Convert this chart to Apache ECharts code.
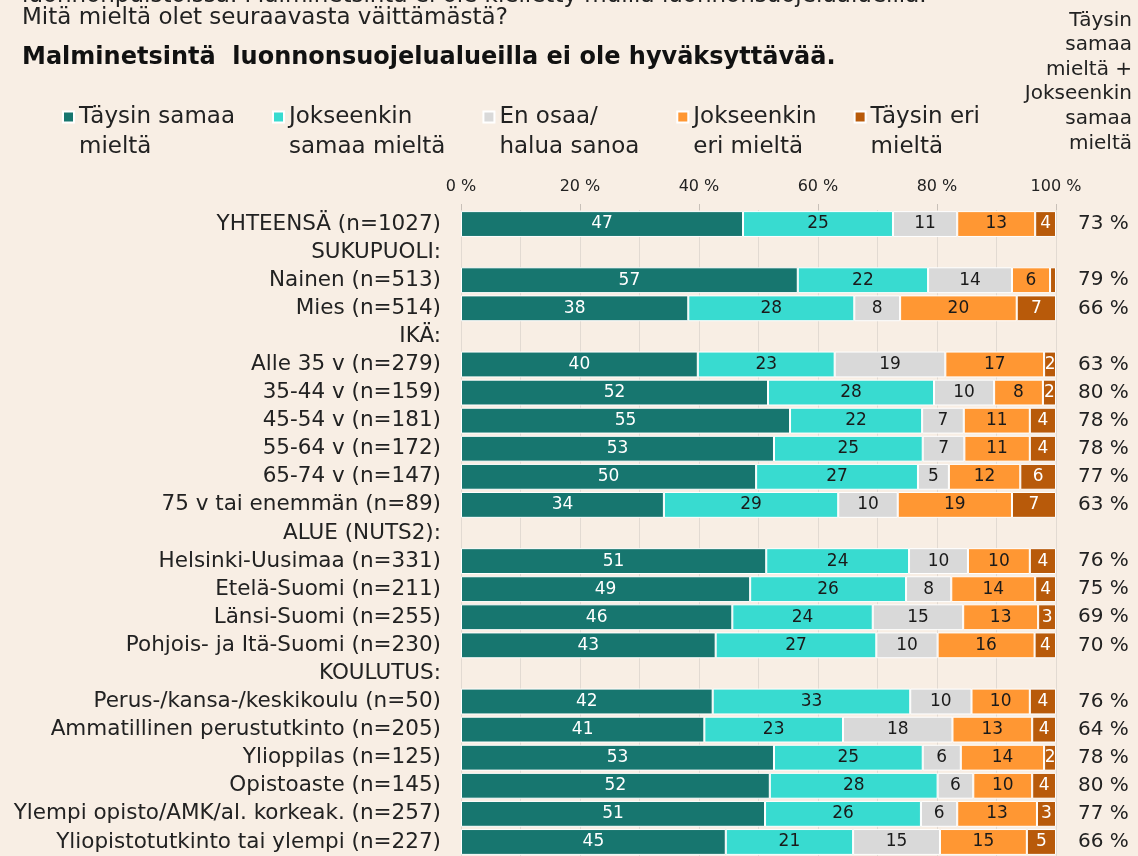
<!DOCTYPE html>
<html>
<head>
<meta charset="utf-8">
<script src="https://cdn.jsdelivr.net/npm/echarts@6/dist/echarts.min.js"></script>
<style>
  html, body { margin: 0; padding: 0; background: #F8EEE4; }
  #main { width: 1138px; height: 856px; }
</style>
</head>
<body>
<div id="main"></div>
<script>
// rivit ylhäältä alas, null = otsikkorivi ilman palkkia
let categories = ['YHTEENSÄ (n=1027)', 'SUKUPUOLI:', 'Nainen (n=513)', 'Mies (n=514)', 'IKÄ:',
    'Alle 35 v (n=279)', '35-44 v (n=159)', '45-54 v (n=181)', '55-64 v (n=172)', '65-74 v (n=147)',
    '75 v tai enemmän (n=89)', 'ALUE (NUTS2):', 'Helsinki-Uusimaa (n=331)', 'Etelä-Suomi (n=211)',
    'Länsi-Suomi (n=255)', 'Pohjois- ja Itä-Suomi (n=230)', 'KOULUTUS:', 'Perus-/kansa-/keskikoulu (n=50)',
    'Ammatillinen perustutkinto (n=205)', 'Ylioppilas (n=125)', 'Opistoaste (n=145)',
    'Ylempi opisto/AMK/al. korkeak. (n=257)', 'Yliopistotutkinto tai ylempi (n=227)']
let seriesNames = ['Täysin samaa\nmieltä', 'Jokseenkin\nsamaa mieltä', 'En osaa/\nhalua sanoa', 'Jokseenkin\neri mieltä', 'Täysin eri\nmieltä']
let taysinSamaa =     [47.4, null, 56.6, 38.2, null, 39.8, 51.6, 55.3, 52.6, 49.6, 34.1, null, 51.3, 48.6, 45.6, 42.8, null, 42.3, 40.9, 52.6, 51.9, 51.1, 44.5]
let jokseenkinSamaa = [25.2, null, 21.9, 27.9, null, 23.0, 27.9, 22.2, 25.0, 27.2, 29.3, null, 24.0, 26.2, 23.6, 27.0, null, 33.2, 23.3, 25.0, 28.2, 26.2, 21.4]
let enOsaa =          [10.8, null, 14.1,  7.7, null, 18.6, 10.1,  7.0,  7.0,  5.2, 10.0, null,  9.9,  7.6, 15.2, 10.3, null, 10.3, 18.4,  6.4,  6.0,  6.1, 14.6]
let jokseenkinEri =   [13.1, null,  6.4, 19.6, null, 16.6,  8.2, 11.1, 11.0, 12.0, 19.2, null, 10.4, 14.1, 12.6, 16.3, null,  9.8, 13.4, 14.0,  9.9, 13.4, 14.6]
let taysinEri =       [ 3.5, null,  1.0,  6.6, null,  2.0,  2.2,  4.4,  4.4,  6.0,  7.4, null,  4.4,  3.5,  3.0,  3.6, null,  4.4,  4.0,  2.0,  4.0,  3.2,  4.9]
let totals = ['73 %', '', '79 %', '66 %', '', '63 %', '80 %', '78 %', '78 %', '77 %', '63 %', '', '76 %', '75 %',
    '69 %', '70 %', '', '76 %', '64 %', '78 %', '80 %', '77 %', '66 %']
let xTicks = [0, 20, 40, 60, 80, 100]

let colors = ['#17766F', '#38DBD0', '#D9D9D9', '#FF9733', '#B85A0A']
let labelColors = ['#ffffff', '#1a1a1a', '#1a1a1a', '#1a1a1a', '#ffffff']
let allData = [taysinSamaa, jokseenkinSamaa, enOsaa, jokseenkinEri, taysinEri]
let font = 'DejaVu Sans'

let myChart = echarts.init(document.getElementById('main'))

let series = allData.map(function (d, i) {
    return {
        name: seriesNames[i],
        type: 'bar',
        stack: 'all',
        xAxisIndex: 0,
        barCategoryGap: '8%',
        itemStyle: {
            color: colors[i],
            borderColor: '#ffffff',
            borderWidth: 1
        },
        label: {
            show: true,
            position: 'inside',
            color: labelColors[i],
            fontFamily: font,
            fontSize: 17,
            formatter: function (p) {
                if (p.value == null || p.value < 1.5) return ''
                return Math.round(p.value)
            }
        },
        emphasis: { disabled: true },
        data: d
    }
})

let option = {
    backgroundColor: '#F8EEE4',
    animation: false,
    textStyle: { fontFamily: font },
    color: colors,
    graphic: [
        {
            type: 'text', x: 22, y: -15,
            style: { text: 'luonnonpuistoissa. Malminetsintä ei ole kielletty muilla luonnonsuojelualueilla.', fontFamily: font, fontSize: 23, fill: '#222' }
        },
        {
            type: 'text', x: 22, y: 7,
            style: { text: 'Mitä mieltä olet seuraavasta väittämästä?', fontFamily: font, fontSize: 23, fill: '#222' }
        },
        {
            type: 'text', x: 22, y: 46,
            style: { text: 'Malminetsintä  luonnonsuojelualueilla ei ole hyväksyttävää.', fontFamily: font, fontWeight: 'bold', fontSize: 24, fill: '#111' }
        },
        {
            type: 'text', x: 1132, y: 8,
            style: {
                text: 'Täysin\nsamaa\nmieltä +\nJokseenkin\nsamaa\nmieltä',
                fontFamily: font, fontSize: 20, lineHeight: 24.6, fill: '#222',
                align: 'right', textAlign: 'right', verticalAlign: 'top'
            }
        }
    ],
    legend: {
        left: 62,
        top: 72,
        padding: 0,
        itemGap: 37,
        itemWidth: 11,
        itemHeight: 11,
        icon: 'rect',
        selectedMode: false,
        // tyhjä ensimmäinen rivi: merkki osuu tekstin ensimmäiselle riville
        formatter: function (name) {
            return '\n' + name
        },
        textStyle: {
            fontFamily: font,
            fontSize: 23,
            color: '#222',
            lineHeight: 30
        },
        data: seriesNames
    },
    grid: {
        top: 210,
        left: 461,
        right: 82,
        height: 650
    },
    xAxis: [
        {
            type: 'value',
            position: 'top',
            min: 0,
            max: 100,
            interval: 20,
            axisLine: { show: false },
            axisTick: { show: true, length: 6, lineStyle: { color: '#c8c0b8' } },
            splitLine: { show: false },
            axisLabel: {
                margin: 15,
                color: '#222',
                fontSize: 16,
                fontFamily: font,
                formatter: function (v) {
                    return xTicks.indexOf(v) >= 0 ? v + ' %' : ''
                }
            }
        },
        {
            type: 'value',
            position: 'top',
            min: 0,
            max: 100,
            interval: 10,
            axisLine: { show: false },
            axisTick: { show: false },
            axisLabel: { show: false },
            splitLine: { show: true, lineStyle: { color: '#e2dad2', width: 1 } }
        }
    ],
    yAxis: [
        {
            type: 'category',
            inverse: true,
            data: categories,
            axisLine: { show: false },
            axisTick: { show: false },
            axisLabel: {
                interval: 0,
                margin: 20,
                color: '#222',
                fontSize: 21.5,
                fontFamily: font
            }
        },
        {
            type: 'category',
            inverse: true,
            position: 'right',
            data: totals,
            axisLine: { show: false },
            axisTick: { show: false },
            axisLabel: {
                interval: 0,
                margin: 22,
                color: '#222',
                fontSize: 20,
                fontFamily: font
            }
        }
    ],
    series: series
}

myChart.clear()
myChart.setOption(option)
</script>
</body>
</html>
